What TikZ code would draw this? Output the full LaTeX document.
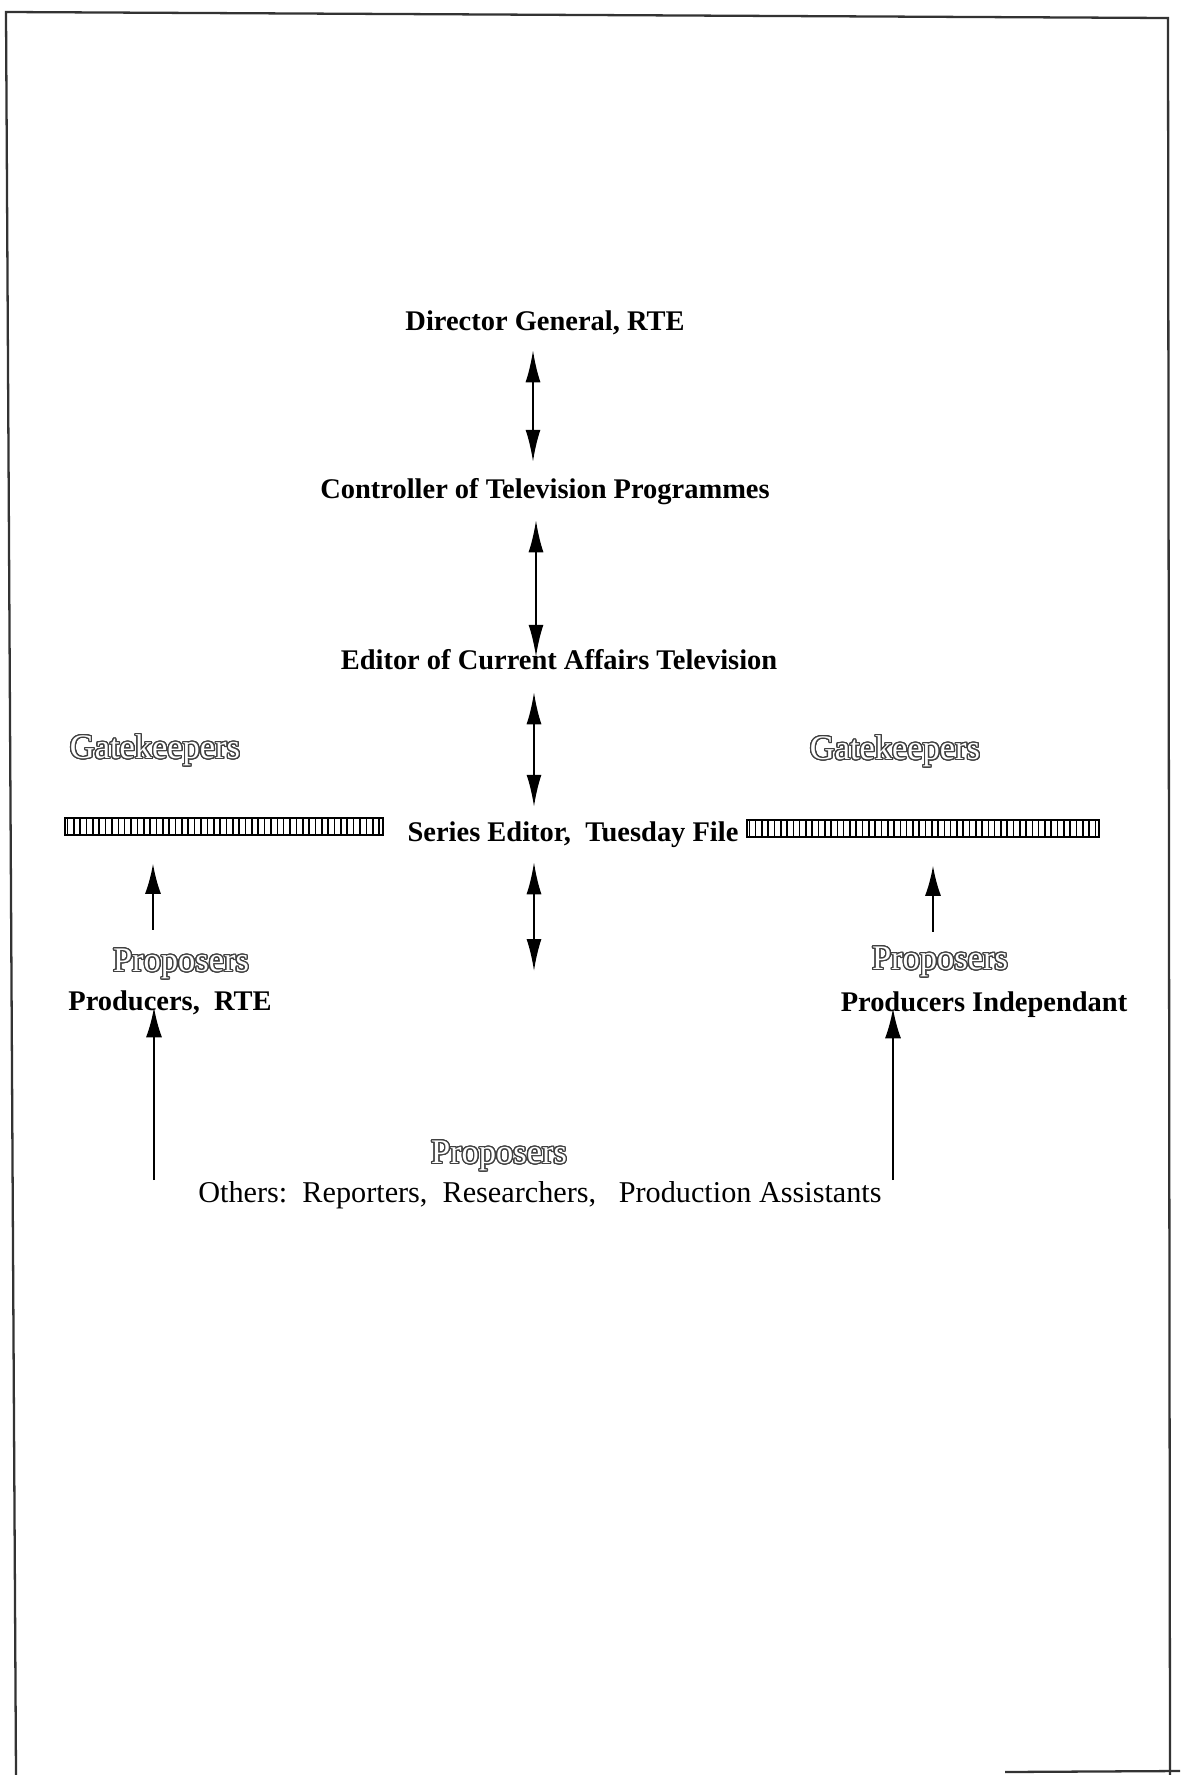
\documentclass[tikz,border=0pt]{standalone}
\usepackage{fontspec}
\setmainfont{Liberation Serif}
\usepackage[copies]{contour}
\usetikzlibrary{arrows.meta,calc,positioning}

\contourlength{0.7pt}
\contournumber{24}
\newcommand{\hollow}[1]{{\color{white}\contour{black!75}{#1}}}

\tikzset{
  rank/.style={font=\fontsize{16.2}{19}\selectfont\bfseries, inner sep=0pt, text height=0.7em, text depth=0.2em, yshift=-0.08cm},
  staff/.style={font=\fontsize{17.2}{20}\selectfont, inner sep=0pt, text height=0.7em, text depth=0.2em, yshift=-0.08cm},
  role/.style={font=\fontsize{19.6}{23}\selectfont, inner sep=0pt, text height=0.7em, text depth=0.2em, yshift=-0.14cm},
  gatebar/.style={draw, line width=0.9pt, minimum height=0.34cm, inner sep=0pt},
  tick/.style={line width=0.9pt},
  dbl/.style={{Latex[length=0.64cm,width=0.3cm]}-{Latex[length=0.64cm,width=0.3cm]}, line width=1.2pt},
  up/.style={-{Latex[length=0.6cm,width=0.32cm]}, line width=1.2pt},
  frame/.style={line width=1.3pt, black!80}
}

\begin{document}
\begin{tikzpicture}[x=0.02cm, y=-0.02cm]
  \useasboundingbox (0,0) rectangle (1180,1775);
  \draw[frame] (16,1775) -- (6,12) -- (1168,18) -- (1170,1775);
  \draw[frame] (1005,1772) -- (1180,1771);

  \node[rank] (dg) at (545,322) {Director General, RTE};
  \node[rank] (ctp) at (545,490) {Controller of Television Programmes};
  \node[rank] (ecat) at (559,661) {Editor of Current Affairs Television};
  \node[rank] (se) at (573,833) {Series Editor,\ \ Tuesday File};

  \node[role] (gkL) at (155,747) {\hollow{Gatekeepers}};
  \node[role] (gkR) at (895,748) {\hollow{Gatekeepers}};

  \node[gatebar, minimum width=6.36cm] (barL) at (224,826.5) {};
  \node[gatebar, minimum width=7.04cm] (barR) at (923,828.5) {};
  \foreach \i in {0,...,49}
    \draw[tick] ($(barL.south west)+({3.2+\i*6.36},0)$) -- ++(0,-17);
  \foreach \i in {0,...,55}
    \draw[tick] ($(barR.south west)+({3.1+\i*6.29},0)$) -- ++(0,-17);

  \node[role] (prL) at (181,960) {\hollow{Proposers}};
  \node[role] (prR) at (940,958) {\hollow{Proposers}};
  \node[rank] (prodRTE) at (170,1002) {Producers,\ \ RTE};
  \node[rank] (prodInd) at (984,1003) {Producers Independant};

  \node[role] (prO) at (499,1152) {\hollow{Proposers}};
  \node[staff] (others) at (540,1194) {Others:\ \ Reporters,\ \ Researchers,\ \ \ Production Assistants};

  \coordinate (seEnd) at (534,971);
  \coordinate (othL) at (154,1180);
  \coordinate (othR) at (893,1180);

  \draw[dbl] ($(dg.south)+(-12,16)$) -- ($(ctp.north)+(-12,-24)$);
  \draw[dbl] ($(ctp.south)+(-9,18)$) -- ($(ecat.north)+(-23,0)$);
  \draw[dbl] ($(ecat.south)+(-25,19)$) -- ($(se.north)+(-39,-22)$);
  \draw[dbl] ($(se.south)+(-39,17)$) -- (seEnd);

  \draw[up] ($(prL.north)+(-28,-29)$) -- ($(barL.south)+(-71,28)$);
  \draw[up] ($(prR.north)+(-7,-25)$) -- ($(barR.south)+(10,28)$);

  \draw[up] (othL) -- ($(prodRTE.south)+(-16,-7)$);
  \draw[up] (othR) -- ($(prodInd.south)+(-91,-7)$);
\end{tikzpicture}
\end{document}
